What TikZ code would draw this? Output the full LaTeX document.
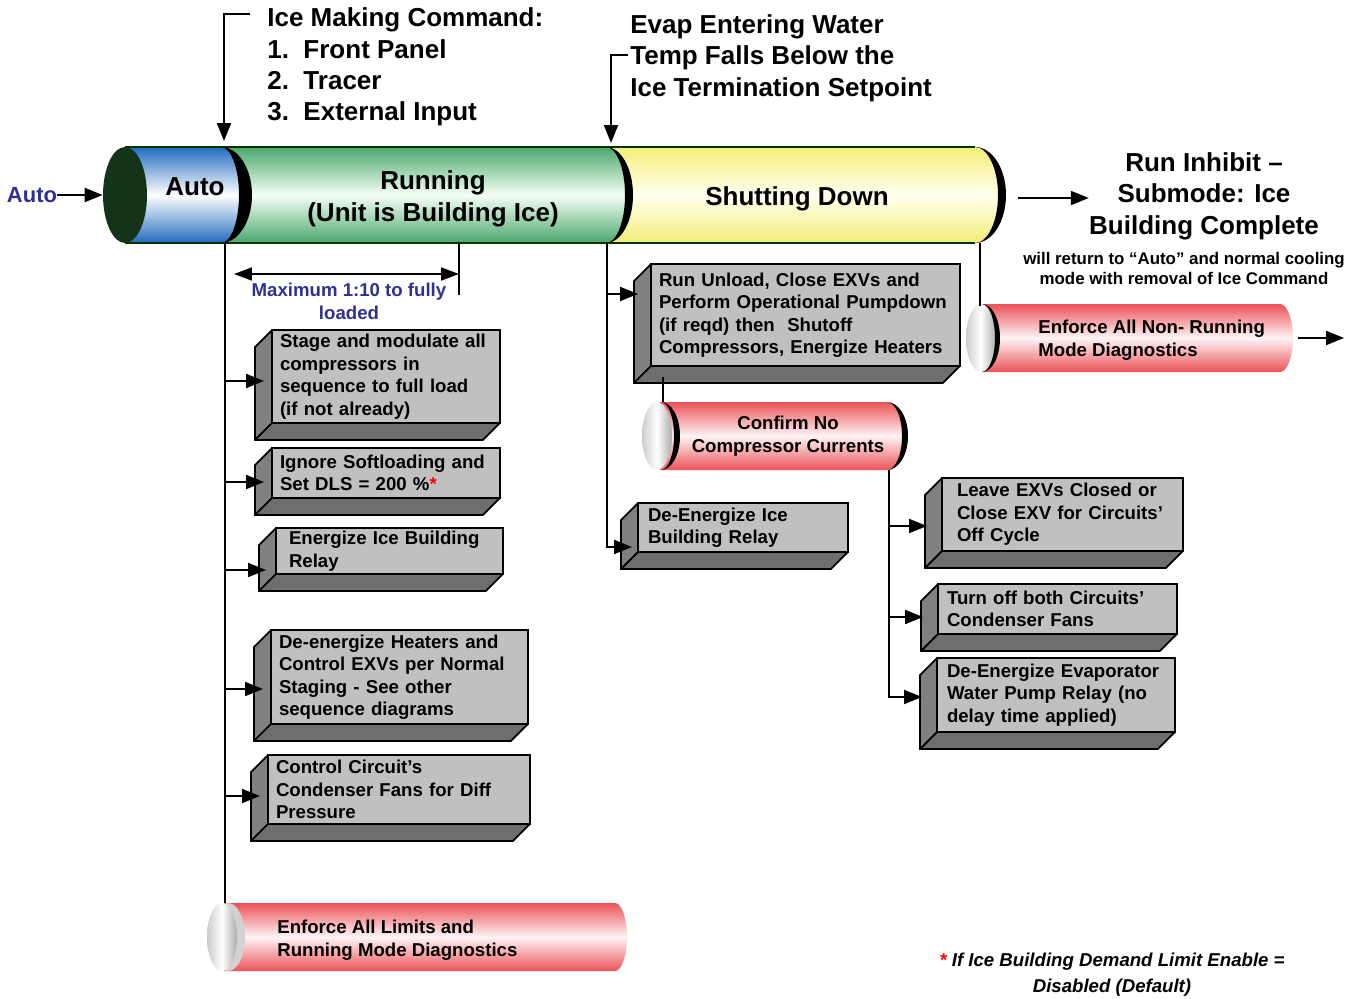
\documentclass[tikz,border=0pt]{standalone}
\usepackage{fontspec}
\setmainfont{Liberation Sans}
\usetikzlibrary{arrows.meta,shapes.geometric,calc}

\definecolor{capgreen}{RGB}{20,52,26}
\definecolor{autoblue}{RGB}{34,108,190}
\definecolor{rungreen}{RGB}{74,166,108}
\definecolor{shutyellow}{RGB}{244,238,120}
\definecolor{diagred}{RGB}{236,82,88}
\definecolor{facegray}{RGB}{192,192,192}
\definecolor{sidegray}{RGB}{128,128,128}
\definecolor{basegray}{RGB}{110,110,110}
\definecolor{noteblue}{RGB}{46,49,146}

\newcommand{\cylfont}{\fontsize{14.8}{17.9}\selectfont\bfseries}
\newcommand{\boxfont}{\fontsize{10.6}{12.8}\selectfont\bfseries}
\newcommand{\smallnote}{\fontsize{9.6}{11.9}\selectfont\bfseries}
\newcommand{\autofont}{\fontsize{12.5}{15}\selectfont\bfseries}

\begin{document}
\begin{tikzpicture}[
    x=0.02cm, y=-0.02cm,
    actbox/.style={draw, fill=facegray, line width=1pt, anchor=north west, align=left, inner xsep=0.16cm, inner ysep=0pt, outer sep=0pt, font=\boxfont},
    cyltext/.style={inner sep=0pt, font=\cylfont},
    conn/.style={line width=1.1pt},
    arrow/.style={line width=1.1pt, -{Triangle[length=0.36cm, width=0.28cm]}},
    dimarrow/.style={line width=1.1pt, {Triangle[length=0.36cm, width=0.26cm]}-{Triangle[length=0.36cm, width=0.26cm]}},
    endcap/.style={ellipse, inner sep=0pt, minimum width=0.6cm, minimum height=1.36cm, left color=gray!40, right color=gray!65, middle color=white}
]
\useasboundingbox (0,0) rectangle (1359,998);

% Main cylinder (drawn right to left)
\path[top color=shutyellow, bottom color=shutyellow, middle color=yellow!6] (606,147) -- (975,147) arc[start angle=-90, end angle=90, x radius=23, y radius=48] -- (606,243) -- cycle;
\path[top color=rungreen, bottom color=rungreen, middle color=green!4] (221,147) -- (606,147) arc[start angle=-90, end angle=90, x radius=19, y radius=48] -- (221,243) -- cycle;
\path[top color=autoblue, bottom color=autoblue, middle color=white] (125,147) -- (221,147) arc[start angle=-90, end angle=90, x radius=18, y radius=48] -- (125,243) -- cycle;
\draw[line width=0.6pt, black!80!green] (125,147) -- (975,147) (125,243) -- (975,243);
\foreach \xr/\ri/\ro in {221/18/31, 606/19/27, 975/23/31}
  \fill (\xr,147) arc[start angle=-90, end angle=90, x radius=\ro, y radius=48] arc[start angle=90, end angle=-90, x radius=\ri, y radius=48] -- cycle;
\node[ellipse, fill=capgreen, inner sep=0pt, minimum width=0.88cm, minimum height=1.92cm] (cap) at (125,195) {};

\node[cyltext] (auto) at (195,187) {Auto};
\node[cyltext, align=center] (running) at (433,199) {Running\\(Unit is Building Ice)};
\node[cyltext] (shutdown) at (797,199) {Shutting Down};

% Red cylinders
\path[top color=diagred, bottom color=diagred, middle color=diagred!6] (982,304) -- (1280,304) arc[start angle=-90, end angle=90, x radius=13, y radius=34] -- (982,372) -- cycle;
\node[endcap] (nrcap) at (981,338) {};
\fill (982,304) arc[start angle=-90, end angle=90, x radius=18, y radius=34] arc[start angle=90, end angle=-90, x radius=13, y radius=34] -- cycle;

\path[top color=diagred, bottom color=diagred, middle color=diagred!6] (660,402) -- (887,402) arc[start angle=-90, end angle=90, x radius=15, y radius=34] -- (660,470) -- cycle;
\node[endcap] (cfcap) at (657,436) {};
\fill (661,402) arc[start angle=-90, end angle=90, x radius=19, y radius=34] arc[start angle=90, end angle=-90, x radius=13, y radius=34] -- cycle;
\fill (887,402) arc[start angle=-90, end angle=90, x radius=21, y radius=34] arc[start angle=90, end angle=-90, x radius=15, y radius=34] -- cycle;

\path[top color=diagred, bottom color=diagred, middle color=diagred!6] (224,903) -- (615,903) arc[start angle=-90, end angle=90, x radius=12, y radius=34] -- (224,971) -- cycle;
\fill[gray!35] (228,937) ellipse[x radius=17, y radius=34];
\node[endcap] (limcap) at (222,937) {};

\node[anchor=west, align=left, inner sep=0pt, font=\boxfont] (nonrun) at (1038,340) {Enforce All Non- Running\\Mode Diagnostics};
\node[align=center, inner sep=0pt, font=\boxfont] (confirm) at (788,436) {Confirm No\\Compressor Currents};
\node[anchor=west, align=left, inner sep=0pt, font=\boxfont] (limits) at (277,940) {Enforce All Limits and\\Running Mode Diagnostics};

% Top texts
\node[anchor=west, align=left, inner sep=0pt, font=\cylfont] (icecmd) at (267,67) {Ice Making Command:\\1.\ \ Front Panel\\2.\ \ Tracer\\3.\ \ External Input};
\node[anchor=west, align=left, inner sep=0pt, font=\cylfont] (evap) at (630,58) {Evap Entering Water\\Temp Falls Below the\\Ice Termination Setpoint};
\node[align=center, inner sep=0pt, font=\cylfont] (inhibit) at (1204,196) {Run Inhibit --\\Submode: Ice\\Building Complete};
\node[align=center, inner sep=0pt, font=\smallnote] (returns) at (1184,268.5) {will return to “Auto” and normal cooling\\mode with removal of Ice Command};
\node[inner sep=0pt, font=\autofont, text=noteblue] (autoin) at (32,195) {Auto};
\node[align=center, inner sep=0pt, font=\boxfont, text=noteblue] (maxload) at (349,301.5) {Maximum 1:10 to fully\\loaded};
\node[align=center, inner sep=0pt, font=\boxfont\itshape] (footnote) at (1112,975) {\textcolor{red}{*} If Ice Building Demand Limit Enable =\\[1.9pt] Disabled (Default)};

% Action boxes
\node[actbox, text width=4.24cm, minimum height=1.86cm] (stage) at (272,330) {Stage and modulate all\\compressors in\\sequence to full load\\(if not already)};
\node[actbox, text width=4.24cm, minimum height=1.00cm] (ignore) at (272,448) {Ignore Softloading and\\Set DLS = 200 \%\textcolor{red}{*}};
\node[actbox, inner xsep=0.26cm, text width=4.02cm, minimum height=0.92cm] (relay) at (276,528) {Energize Ice Building\\Relay};
\node[actbox, text width=4.82cm, minimum height=1.88cm] (deheat) at (271,630) {De-energize Heaters and\\Control EXVs per Normal\\Staging - See other\\sequence diagrams};
\node[actbox, text width=4.92cm, minimum height=1.38cm] (fans) at (268,755) {Control Circuit’s\\Condenser Fans for Diff\\Pressure};
\node[actbox, text width=5.86cm, minimum height=2.04cm] (unload) at (651,264) {Run Unload, Close EXVs and\\Perform Operational Pumpdown\\(if reqd) then\ \ Shutoff\\Compressors, Energize Heaters};
\node[actbox, inner xsep=0.2cm, text width=3.80cm, minimum height=0.98cm] (deice) at (638,503) {De-Energize Ice\\Building Relay};
\node[actbox, inner xsep=0.3cm, text width=4.22cm, minimum height=1.46cm] (leave) at (942,478) {Leave EXVs Closed or\\Close EXV for Circuits’\\Off Cycle};
\node[actbox, inner xsep=0.18cm, text width=4.42cm, minimum height=1.00cm] (turnoff) at (938,584) {Turn off both Circuits’\\Condenser Fans};
\node[actbox, inner xsep=0.2cm, text width=4.36cm, minimum height=1.48cm] (pump) at (937,658) {De-Energize Evaporator\\Water Pump Relay (no\\delay time applied)};

% Box depth
\foreach \b in {stage,ignore,relay,deheat,fans,unload,deice,leave,turnoff,pump} {
  \filldraw[fill=sidegray, line width=1pt, line join=round] (\b.north west) -- ++(-17,17) -- ([shift={(-17,17)}]\b.south west) -- (\b.south west) -- cycle;
  \filldraw[fill=basegray, line width=1pt, line join=round] (\b.south west) -- ++(-17,17) -- ([shift={(-17,17)}]\b.south east) -- (\b.south east) -- cycle;
}

% Connector points
\coordinate (spineA) at (225,243);
\coordinate (limtop) at (225,903);
\coordinate (spineB) at (607,243);
\coordinate (spineC) at (889,470);
\coordinate (spineD) at (980,243);
\coordinate (nrtop) at (980,306);
\coordinate (cftop) at (663,402);
\coordinate (sdend) at (1018,198);
\coordinate (nrend) at (1298,338);
\coordinate (nrout) at (1344,338);
\coordinate (icecorner) at (250,14);
\coordinate (icedrop) at (224,141);
\coordinate (evapcorner) at (628,55);
\coordinate (evapdrop) at (611,143);
\coordinate (dimL) at (234,274);
\coordinate (dimR) at (459,274);
\coordinate (ticktop) at (459,243);
\coordinate (tickbot) at (459,295);

\foreach \b/\dx/\dy in {stage/-8/4.5, ignore/-8/9, relay/-10/19, deheat/-8/12, fans/-8/6.5, unload/-13/-21, deice/-6/19.5, leave/-15/11.5, turnoff/-15/8, pump/-15/2}
  \coordinate (\b-in) at ([shift={(\dx,\dy)}]\b.west);

% Arrows
\draw[arrow] (autoin.east) -- (cap.west);
\draw[arrow] (icecorner) -| (icedrop);
\draw[arrow] (evapcorner) -| (evapdrop);
\draw[dimarrow] (dimL) -- (dimR);
\draw[conn] (ticktop) -- (tickbot);
\draw[conn] (spineA) -- (limtop);
\foreach \b in {stage,ignore,relay,deheat,fans}
  \draw[arrow] (spineA |- \b-in) -- (\b-in);
\draw[arrow] (spineB |- unload-in) -- (unload-in);
\draw[arrow] (spineB) |- (deice-in);
\draw[conn] ([shift={(12,11)}]unload.south west) -- (cftop);
\draw[arrow] (spineC |- leave-in) -- (leave-in);
\draw[arrow] (spineC |- turnoff-in) -- (turnoff-in);
\draw[arrow] (spineC) |- (pump-in);
\draw[conn] (spineD) -- (nrtop);
\draw[arrow] (sdend) -- (inhibit.west |- sdend);
\draw[arrow] (nrend) -- (nrout);

\end{tikzpicture}
\end{document}
